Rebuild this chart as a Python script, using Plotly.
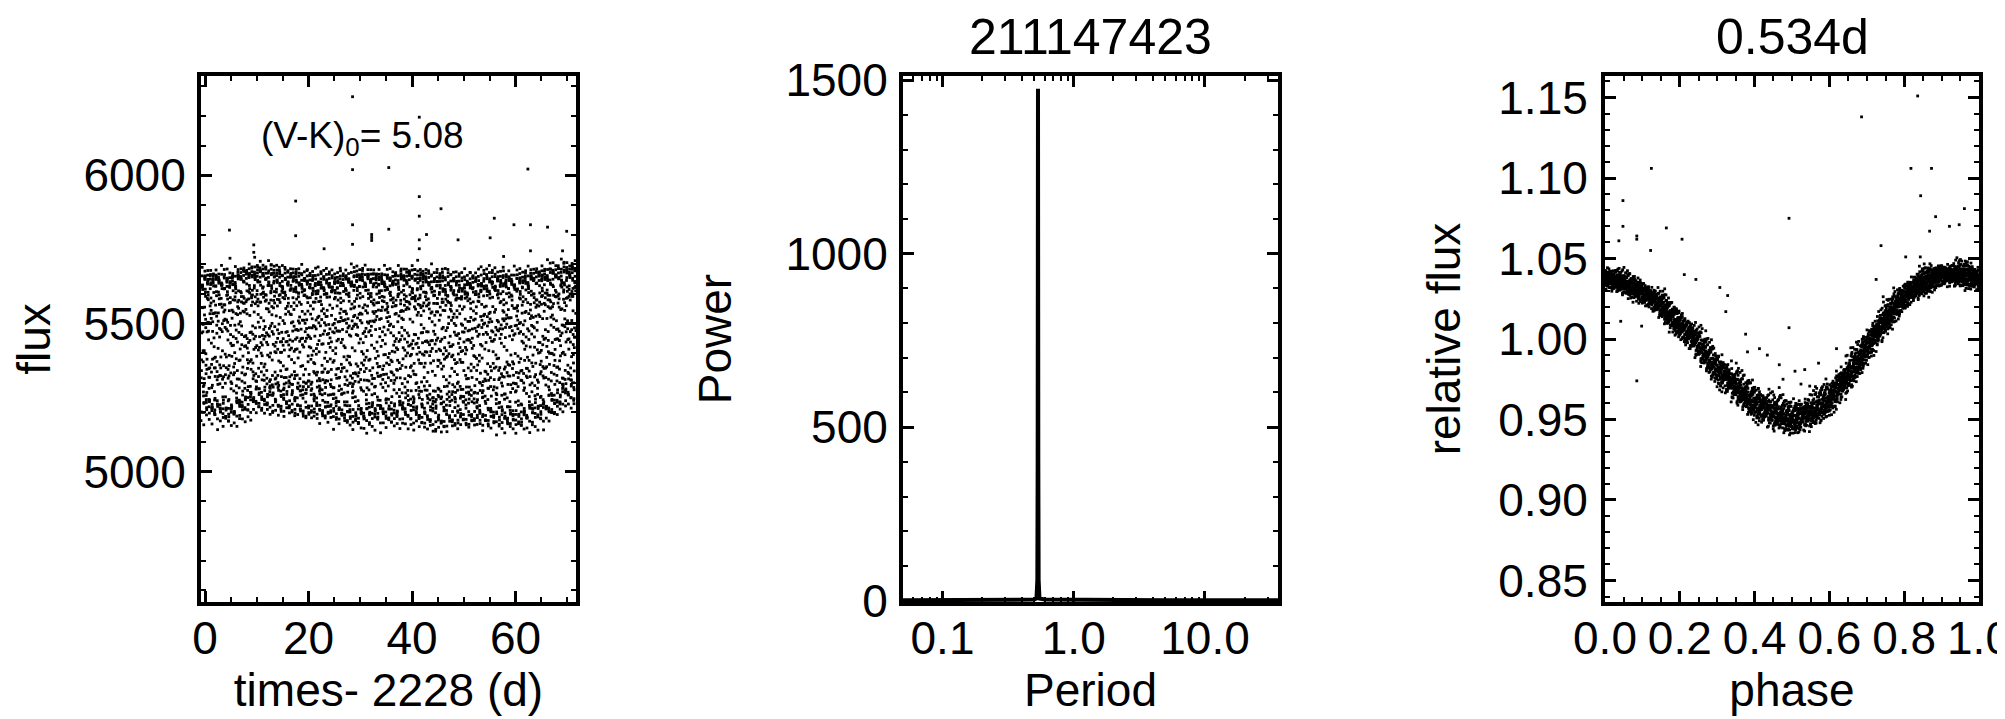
import numpy as np
import plotly.graph_objects as go

W, H = 2005, 719
FONT = "Liberation Sans, Arial, Helvetica, sans-serif"

# ---------------- values ----------------
star_id = "211147423"
period_days = 0.534
period_label = "0.534d"
color_index_label = "(V-K)<sub>0</sub>= 5.08"
cadence_days = 0.020434          # K2 long cadence
time_start, time_end = -0.8, 71.7

# upper / lower edges of the light-curve band (panel 1)
env_times = [-0.8, 0, 5, 10, 15, 20, 25, 30, 35, 40, 45, 50, 55, 60, 65, 70, 71.7]
env_upper = [5664, 5664, 5657, 5686, 5672, 5664, 5657, 5671, 5657, 5671, 5664, 5650, 5664, 5657, 5671, 5690, 5690]
env_lower = [5195, 5195, 5173, 5217, 5210, 5195, 5180, 5166, 5173, 5173, 5151, 5166, 5166, 5158, 5173, 5235, 5240]

# phase-folded shape (panel 3): centre of the band and its half thickness
phase_nodes = [0.00, 0.05, 0.10, 0.15, 0.20, 0.25, 0.30, 0.35, 0.40, 0.45, 0.50,
               0.55, 0.60, 0.65, 0.70, 0.75, 0.80, 0.85, 0.90, 0.95, 1.00]
rel_shape = [1.038, 1.035, 1.029, 1.021, 1.009, 0.997, 0.982, 0.970, 0.961, 0.954, 0.951,
             0.954, 0.963, 0.977, 0.995, 1.012, 1.027, 1.035, 1.040, 1.040, 1.038]
band_half = [0.008, 0.008, 0.008, 0.009, 0.010, 0.011, 0.011, 0.010, 0.010, 0.009, 0.009,
             0.009, 0.010, 0.011, 0.011, 0.011, 0.010, 0.009, 0.008, 0.008, 0.008]

# outliers in panel 1 (time, flux)
out_t = [4.7, 4.8, 9.4, 9.4, 17.5, 17.5, 23.0, 28.5, 28.5, 28.5, 28.5, 32.2, 32.2, 32.2,
         35.5, 35.5, 41.4, 41.4, 41.4, 41.4, 41.4, 42.8, 45.6, 48.9, 55.1, 55.9, 57.7,
         59.7, 62.4, 62.9, 62.9, 66.2, 69.9, 69.1]
out_f = [5815, 5720, 5740, 5765, 5913, 5796, 5752, 6265, 6019, 5833, 5767, 5800, 5790, 5780,
         6026, 5818, 6196, 5928, 5862, 5782, 5752, 5800, 5887, 5782, 5789, 5855, 5726,
         5833, 6021, 5833, 5745, 5825, 5811, 5745]

# outliers in panel 3 (phase, relative flux)
out_ph = [0.124, 0.048, 0.048, 0.037, 0.085, 0.085, 0.164, 0.206, 0.122, 0.212, 0.243, 0.307,
          0.328, 0.323, 0.085, 0.042, 0.098, 0.376, 0.413, 0.492, 0.492, 0.686, 0.836, 0.818,
          0.873, 0.844, 0.884, 0.961, 0.868, 0.947, 0.921, 0.725, 0.738, 0.804, 0.843, 0.524,
          0.508, 0.466, 0.476, 0.534, 0.571, 0.619, 0.434, 0.381]
out_rel = [1.106, 1.086, 1.070, 1.061, 1.064, 1.062, 1.069, 1.062, 1.055, 1.040, 1.037, 1.032,
           1.027, 1.017, 0.974, 1.011, 1.008, 1.003, 0.994, 1.007, 1.075, 1.138, 1.151, 1.106,
           1.106, 1.089, 1.076, 1.081, 1.067, 1.071, 1.070, 1.037, 1.058, 1.051, 1.051, 0.972,
           0.980, 0.984, 0.975, 0.981, 0.985, 0.994, 0.990, 0.992]

# periodogram (panel 2)
pg_period = [0.05, 0.08, 0.1, 0.2, 0.3, 0.4, 0.5, 0.52, 0.528, 0.531, 0.534, 0.537, 0.540,
             0.548, 0.6, 1.0, 2.0, 5.0, 10.0, 20.0, 36.0]
pg_power = [1, 1, 1, 1, 2, 2, 3, 6, 60, 400, 1475, 400, 60, 6, 3, 2, 1, 1, 1, 1, 1]

# ---------------- build light curve from the read values ----------------
t = np.arange(time_start, time_end, cadence_days)
phase = np.mod(t / period_days, 1.0)
shape = np.interp(phase, phase_nodes, rel_shape)
spread = np.interp(phase, phase_nodes, band_half)
# deterministic (low-discrepancy) placement of the points across the band thickness
k = np.arange(t.size)
u = np.mod(k * 0.6180339887, 1.0) + np.mod(k * 0.7548776662 + 0.5, 1.0) - 1.0
rel_pt = shape + u * spread

c_mid = (max(rel_shape) + min(rel_shape)) / 2
c_half = (max(rel_shape) - min(rel_shape)) / 2
up = np.interp(t, env_times, env_upper)
lo = np.interp(t, env_times, env_lower)
mid = (up + lo) / 2
half = (up - lo) / 2
flux = mid + (rel_pt - c_mid) / c_half * half
rel = flux / (mid.mean() / c_mid)

# ---------------- figure ----------------
def px_x(a, b):
    return [a / W, b / W]

def px_y(top, bot):
    return [1 - bot / H, 1 - top / H]

fig = go.Figure()
mk = dict(color="black", size=2.8, symbol="square", line=dict(width=0))
fig.add_trace(go.Scatter(x=t, y=flux, mode="markers", marker=mk, xaxis="x", yaxis="y", showlegend=False))
fig.add_trace(go.Scatter(x=out_t, y=out_f, mode="markers", marker=mk, xaxis="x", yaxis="y", showlegend=False))
fig.add_trace(go.Scatter(x=pg_period, y=pg_power, mode="lines", line=dict(color="black", width=4),
                         xaxis="x2", yaxis="y2", showlegend=False))
fig.add_trace(go.Scatter(x=phase, y=rel, mode="markers", marker=mk, xaxis="x3", yaxis="y3", showlegend=False))
fig.add_trace(go.Scatter(x=out_ph, y=out_rel, mode="markers", marker=mk, xaxis="x3", yaxis="y3", showlegend=False))

TICK = 46
def axis(**kw):
    d = dict(showline=True, linewidth=4, linecolor="black", mirror="allticks",
             ticks="inside", ticklen=11, tickwidth=2.5, tickcolor="black",
             showgrid=False, zeroline=False, automargin=False,
             tickfont=dict(family=FONT, size=TICK, color="black"),
             title_font=dict(family=FONT, size=46, color="black"),
             minor=dict(ticks="inside", ticklen=5, tickwidth=2, tickcolor="black", showgrid=False))
    for key, v in kw.items():
        if key == "minor":
            d["minor"].update(v)
        else:
            d[key] = v
    return d

ytop, ybot = 68, 594
XLS = -7   # x tick label standoff
fig.update_layout(
    template="none",
    width=W, height=H, margin=dict(l=0, r=0, t=0, b=0, pad=0), autosize=False,
    paper_bgcolor="white", plot_bgcolor="white",
    font=dict(family=FONT, color="black"),
    xaxis=axis(domain=px_x(193, 568), range=[time_start, time_end], tickvals=[0, 20, 40, 60],
               minor=dict(dtick=5, tick0=0), title=dict(text="times- 2228 (d)", standoff=2),
               ticklabelstandoff=XLS, anchor="y"),
    yaxis=axis(domain=px_y(ytop, ybot), range=[4560, 6335], tickvals=[5000, 5500, 6000],
               minor=dict(dtick=100, tick0=0), title=dict(text="flux", standoff=56),
               ticklabelstandoff=2, anchor="x"),
    xaxis2=axis(domain=px_x(895, 1270), type="log", range=[np.log10(0.05), np.log10(36)],
                tickvals=[0.1, 1, 10], ticktext=["0.1", "1.0", "10.0"],
                minor=dict(tickvals=[0.06, 0.07, 0.08, 0.09, 0.2, 0.3, 0.4, 0.5, 0.6, 0.7, 0.8, 0.9,
                                     2, 3, 4, 5, 6, 7, 8, 9, 20, 30]),
                title=dict(text="Period", standoff=2), ticklabelstandoff=XLS, anchor="y2"),
    yaxis2=axis(domain=px_y(ytop, ybot), range=[-4, 1512], tickvals=[0, 500, 1000, 1500],
                minor=dict(dtick=100, tick0=0), title=dict(text="Power", standoff=40),
                ticklabelstandoff=2, anchor="x2"),
    xaxis3=axis(domain=px_x(1597, 1971), range=[0, 1], tickvals=[0, 0.2, 0.4, 0.6, 0.8, 1.0],
                tickformat=".1f", minor=dict(dtick=0.05, tick0=0),
                title=dict(text="phase", standoff=2), ticklabelstandoff=XLS, anchor="y3"),
    yaxis3=axis(domain=px_y(ytop, ybot), range=[0.8366, 1.1634],
                tickvals=[0.85, 0.90, 0.95, 1.00, 1.05, 1.10, 1.15], tickformat=".2f",
                minor=dict(dtick=0.01, tick0=0), title=dict(text="relative flux", standoff=24),
                ticklabelstandoff=4, anchor="x3"),
    annotations=[
        dict(text=star_id, x=(895 + 1270) / 2 / W, y=1 - 29 / H, xref="paper", yref="paper",
             showarrow=False, xanchor="center", yanchor="middle", font=dict(family=FONT, size=50)),
        dict(text=period_label, x=(1597 + 1971) / 2 / W, y=1 - 29 / H, xref="paper", yref="paper",
             showarrow=False, xanchor="center", yanchor="middle", font=dict(family=FONT, size=50)),
        dict(text=color_index_label, x=30.5, y=6126, xref="x", yref="y", showarrow=False,
             xanchor="center", yanchor="middle", font=dict(family=FONT, size=37)),
    ],
)

fig.write_html("out.html")
